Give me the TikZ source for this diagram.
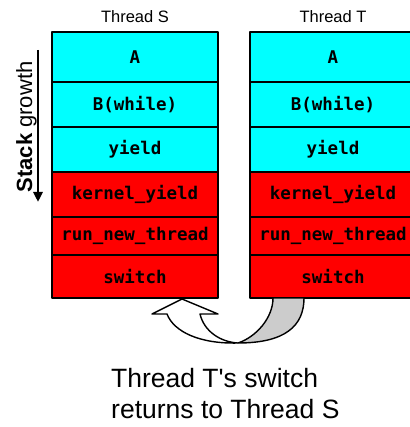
\documentclass[tikz,border=0pt]{standalone}
\usepackage{fontspec}
\setmainfont{Liberation Sans}[Ligatures=TeXOff]
\newfontfamily\codefont{DejaVu Sans Mono}
\usetikzlibrary{arrows.meta}
\definecolor{userfill}{RGB}{0,255,255}
\definecolor{kernfill}{RGB}{255,0,0}
\tikzset{
  frame/.style={draw,line width=1.8pt,minimum width=166pt,inner sep=0pt,
    font=\codefont\bfseries\fontsize{17.5}{17.5}\selectfont},
  user/.style={frame,fill=userfill},
  kern/.style={frame,fill=kernfill},
  head/.style={inner sep=0pt,font=\fontsize{16.5}{18}\selectfont},
  note/.style={inner sep=0pt,anchor=base west,font=\fontsize{26.5}{31}\selectfont},
}
\begin{document}
\begin{tikzpicture}[x=1pt,y=-1pt,>={Triangle[length=10pt,width=9pt]},line join=round]
\useasboundingbox (0,0) rectangle (409,427);
% two stacks, one frame per row
\foreach \th/\cx in {S/135,T/333}{
  \foreach \nm/\ya/\yb/\kind/\txt in {a/32/82/user/A,b/82/127/user/B(while),
      y/127/172/user/yield,k/172/217/kern/kernel\_yield,
      r/217/255/kern/run\_new\_thread,w/255/298/kern/switch}
    \node[\kind,minimum height={1pt*(\yb-\ya)}] (\th\nm) at (\cx,{(\ya+\yb)/2}) {\txt};
  \node[head,anchor=base] (lab\th) at (\cx,23) {Thread \th};
}
% stack growth
\coordinate (g0) at (38,50);
\coordinate (g1) at (38,202);
\draw[->,line width=2.7pt] (g0)--(g1);
\node[rotate=90,anchor=base,inner sep=0pt,font=\fontsize{22}{22}\selectfont] (grow) at (32,127) {\textbf{Stack} growth};
% bent arrow from T's switch back up to S's switch
\draw[line width=1.4pt,fill=black!20] (273,298)--(304,298)
  .. controls (304,326) and (285,343) .. (238,343)
  .. controls (256,337) and (273,318) .. (273,298)--cycle;
\draw[line width=1.4pt,fill=white] (182,299)--(218,314)--(200,314)
  .. controls (204,331) and (220,342) .. (238,343)
  .. controls (200,344) and (174,332) .. (167,314)--(152,314)--cycle;
\node[note] (cap1) at (111,387) {Thread T's switch};
\node[note] (cap2) at (111,418) {returns to Thread S};
\end{tikzpicture}
\end{document}
